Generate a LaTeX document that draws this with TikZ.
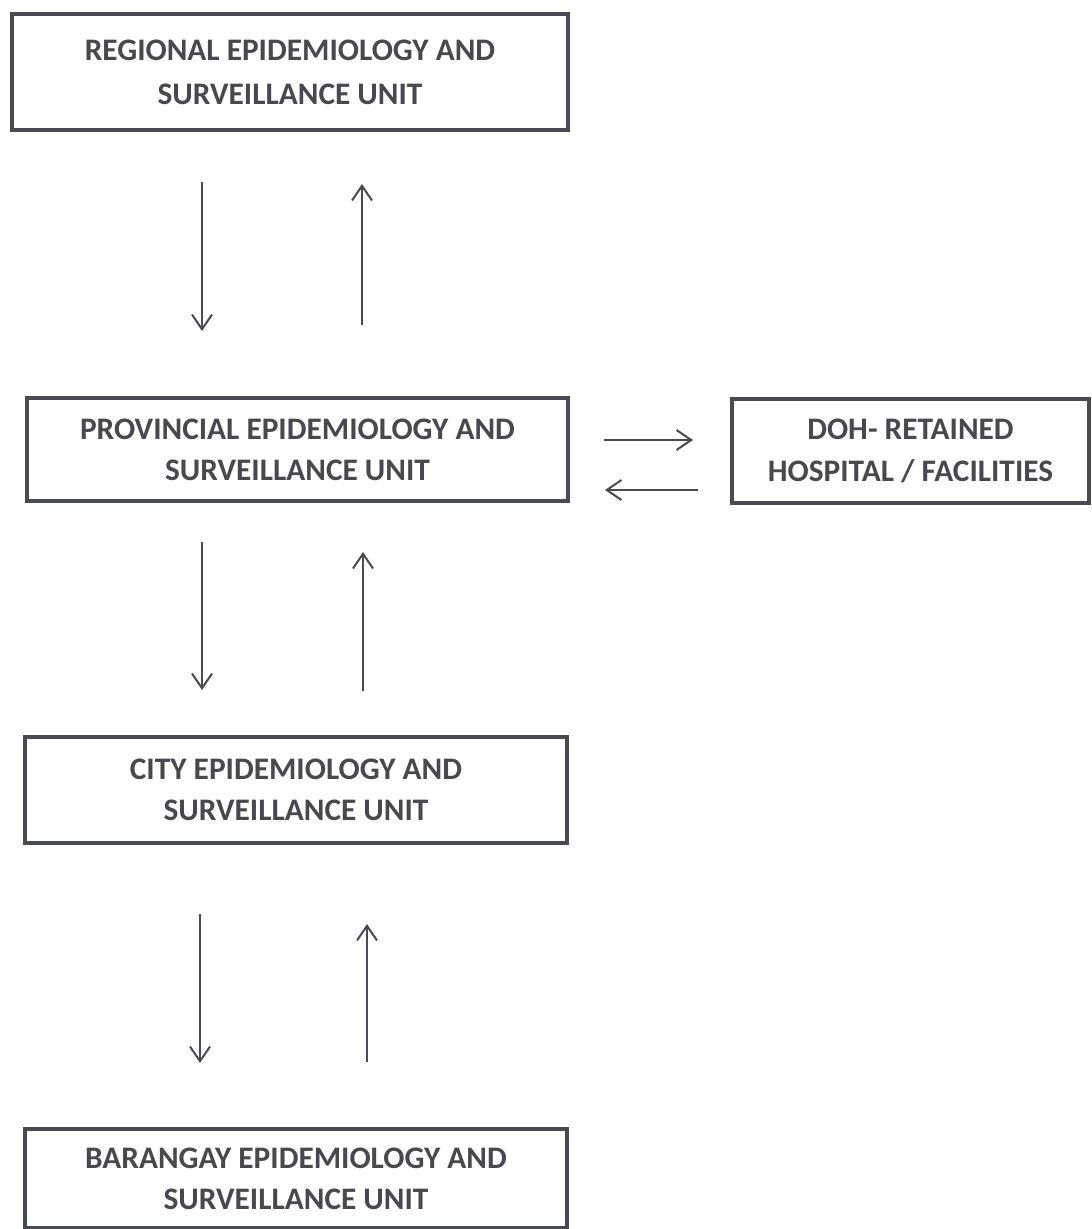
\documentclass[tikz,border=0pt]{standalone}
\usepackage{fontspec}
\setmainfont{Carlito}
\usepackage{xcolor}
\usetikzlibrary{arrows.meta}
\definecolor{inkgray}{HTML}{4A4A52}
\definecolor{textgray}{HTML}{48484E}

\begin{document}
\begin{tikzpicture}[x=0.75pt, y=-0.75pt,
  unitbox/.style={rectangle, draw=inkgray, line width=3pt, inner sep=0pt, align=center,
    text=textgray, font=\fontsize{23.5}{31}\selectfont\bfseries},
  flow/.style={draw=inkgray, line width=1.5pt, -{Straight Barb[length=11pt, width=15pt, line width=1.5pt]}}]
\useasboundingbox (0,0) rectangle (1092,1229);

\node (regional) [unitbox, minimum width=417pt, minimum height=87pt] at (290,72) {REGIONAL EPIDEMIOLOGY AND\\[2pt] SURVEILLANCE UNIT};
\node (provincial) [unitbox, minimum width=405.75pt, minimum height=77.25pt] at (297.5,449.5) {PROVINCIAL EPIDEMIOLOGY AND\\ SURVEILLANCE UNIT};
\node (doh) [unitbox, minimum width=267.75pt, minimum height=78pt] at (910.5,451) {DOH- RETAINED\\ HOSPITAL / FACILITIES};
\node (city) [unitbox, minimum width=406.5pt, minimum height=79.5pt] at (296,790) {CITY EPIDEMIOLOGY AND\\ SURVEILLANCE UNIT};
\node (barangay) [unitbox, minimum width=406.5pt, minimum height=74.25pt] at (296,1178.5) {BARANGAY EPIDEMIOLOGY AND\\ SURVEILLANCE UNIT};

% regional <-> provincial
\draw[flow] ([shift={(-88,50)}]regional.south) -- ([shift={(-95.5,-65)}]provincial.north);
\draw[flow] ([shift={(64.5,-71)}]provincial.north) -- ([shift={(72,52)}]regional.south);
% provincial <-> city
\draw[flow] ([shift={(-95.5,39)}]provincial.south) -- ([shift={(-94,-45)}]city.north);
\draw[flow] ([shift={(67,-44)}]city.north) -- ([shift={(65.5,49)}]provincial.south);
% city <-> barangay
\draw[flow] ([shift={(-96,69)}]city.south) -- ([shift={(-96,-64)}]barangay.north);
\draw[flow] ([shift={(71,-65)}]barangay.north) -- ([shift={(71,79)}]city.south);
% provincial <-> hospitals
\draw[flow] ([shift={(34,-9.5)}]provincial.east) -- ([shift={(-37,-11)}]doh.west);
\draw[flow] ([shift={(-32,39)}]doh.west) -- ([shift={(35,40.5)}]provincial.east);

\end{tikzpicture}
\end{document}
